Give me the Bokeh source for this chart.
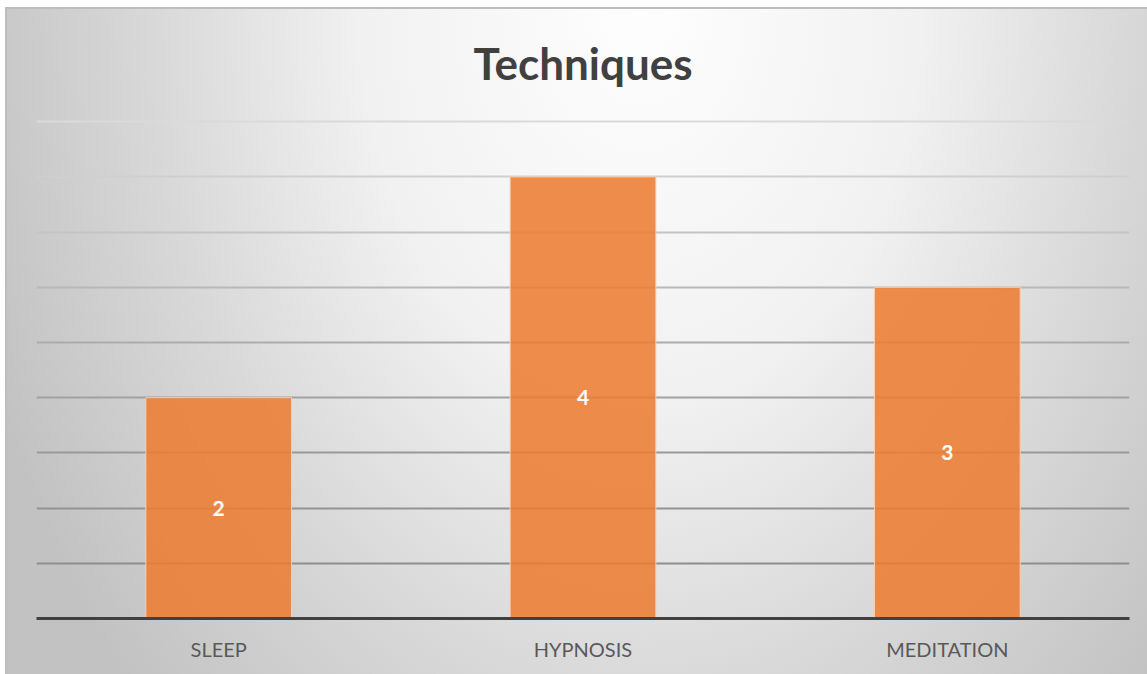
from bokeh.plotting import figure
from bokeh.models import FactorRange, Range1d, Grid, FixedTicker
from bokeh.core.properties import value
from bokeh.embed import file_html
from bokeh.resources import INLINE

# ---- data ----
categories = ["SLEEP", "HYPNOSIS", "MEDITATION"]
counts = [2, 4, 3]
grid_levels = [0.5, 1.0, 1.5, 2.0, 2.5, 3.0, 3.5, 4.0, 4.5]
title_text = "Techniques"

# ---- styles ----
grid_colors = ["#8e8e8e", "#939393", "#999999", "#a2a2a2", "#acacac",
               "#b8b8b8", "#c4c4c4", "#cfcfcf", "#dadada"]

bg = ("linear-gradient(#bdbdbd,#bdbdbd) 5px 7px / 1142px 2px no-repeat, "
      "linear-gradient(#bdbdbd,#bdbdbd) 5px 7px / 2px 667px no-repeat, "
      "radial-gradient(700px 1000px at 634px -8px, #fefefe 0%, #f1f1f1 40%, "
      "#d8d8d8 70%, #c2c2c2 100%) 6px 8px / 1141px 666px no-repeat, #ffffff")

p = figure(width=1147, height=674, output_backend="svg", toolbar_location=None,
           x_range=FactorRange(*categories, range_padding=0),
           y_range=Range1d(0, 4.52),
           min_border_left=36, min_border_right=18,
           min_border_top=119, min_border_bottom=56)
p.styles = {"background": bg}
p.background_fill_alpha = 0
p.border_fill_alpha = 0
p.outline_line_color = None

p.title.text = title_text
p.title.align = "center"
p.title.text_font = "Lato"
p.title.text_font_style = "bold"
p.title.text_font_size = "44px"
p.title.text_color = "#404040"
p.title.standoff = 62

p.xgrid.visible = False
p.ygrid.visible = False
for lvl, col in zip(grid_levels, grid_colors):
    p.add_layout(Grid(dimension=1, ticker=FixedTicker(ticks=[lvl]),
                      grid_line_color=col, grid_line_width=1.8))

p.yaxis.visible = False
ax = p.xaxis[0]
ax.axis_line_color = "#404040"
ax.axis_line_width = 3
ax.major_tick_line_color = None
ax.minor_tick_line_color = None
ax.major_label_text_font = "Lato"
ax.major_label_text_font_size = "20px"
ax.major_label_text_color = "#595959"
ax.major_label_standoff = 12

p.vbar(x=categories, top=counts, width=0.4, fill_color="#ED7D31", fill_alpha=0.87,
       line_color="#f8cfb2", line_width=1)

p.text(x=categories, y=[c / 2 for c in counts], text=[str(c) for c in counts],
       text_font=value("Lato"), text_font_style="bold", text_font_size="21px",
       text_color="white", text_align="center", text_baseline="middle")

open("out.html", "w").write(file_html(p, INLINE))
